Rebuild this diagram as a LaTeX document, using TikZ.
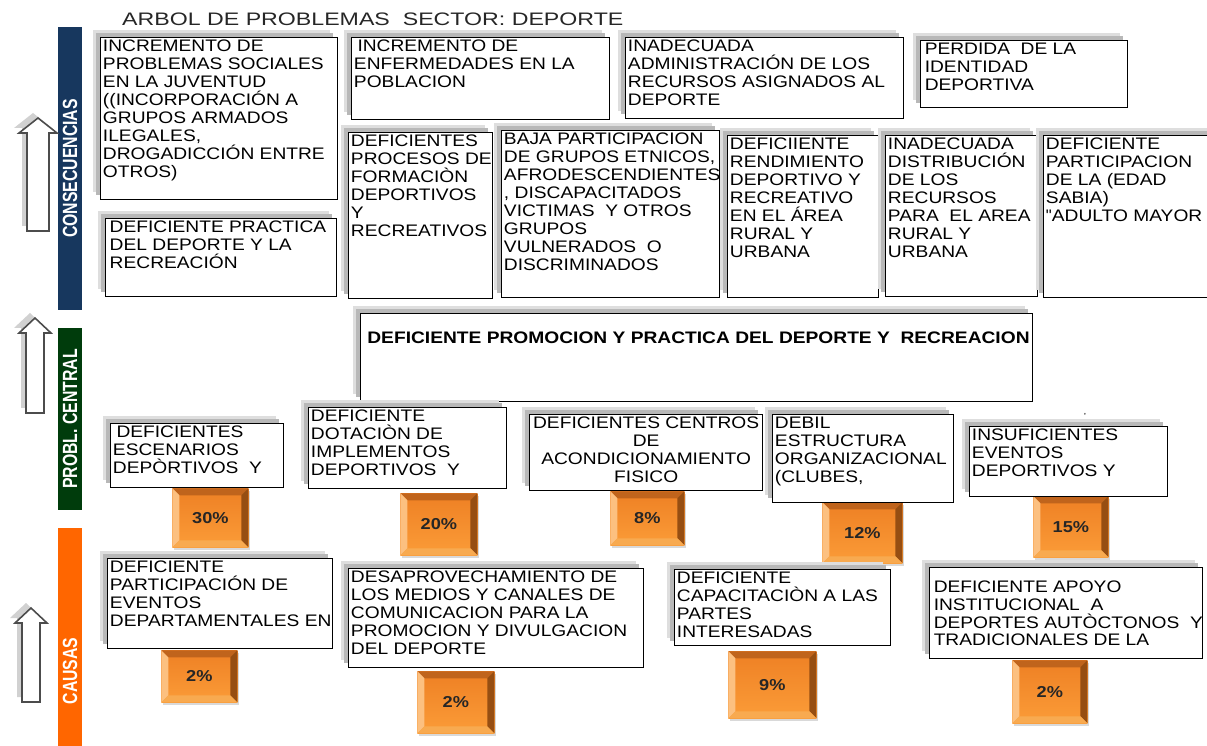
\documentclass[tikz,border=0pt]{standalone}
\usepackage{fontspec}
\usepackage{graphicx}
\usepackage{tikz}
\usepackage{xcolor}
\usetikzlibrary{positioning,shadows}

\setmainfont{Liberation Sans}[FakeStretch=1.15]
\newfontfamily\titlefont{Liberation Sans}[FakeStretch=1.28]
\newfontfamily\sidefont{Liberation Sans}

\definecolor{barblue}{RGB}{23,55,94}
\definecolor{bargreen}{RGB}{0,60,12}
\definecolor{barorange}{RGB}{255,102,0}
\definecolor{pctA}{RGB}{238,128,36}
\definecolor{pctB}{RGB}{251,156,56}
\definecolor{pctT}{RGB}{192,100,28}
\definecolor{pctL}{RGB}{252,192,128}
\definecolor{pctR}{RGB}{150,78,18}
\definecolor{pctD}{RGB}{248,170,80}

\begin{document}
\begin{tikzpicture}[x=0.02cm, y=-0.02cm,
    cbox/.style={draw, line width=0.8pt, fill=white, anchor=north west, inner sep=0pt,
        general shadow={shadow xshift=-4.5pt, shadow yshift=4.5pt, fill=black!13},
        general shadow={shadow xshift=-2.5pt, shadow yshift=2.5pt, fill=black!28}},
    txt/.style={align=left, inner sep=1.5pt, font=\fontsize{9.5}{10.2}\selectfont},
    pct/.style={anchor=north west, inner sep=0pt, top color=pctA, bottom color=pctB,
        font=\bfseries\fontsize{9}{10}\selectfont, text=black!85,
        general shadow={shadow xshift=1pt, shadow yshift=-1.5pt, fill=black!15},
        path picture={
            \path (path picture bounding box.north west) coordinate (bnw)
                  (path picture bounding box.north east) coordinate (bne)
                  (path picture bounding box.south west) coordinate (bsw)
                  (path picture bounding box.south east) coordinate (bse);
            \fill[pctT] (bnw) -- (bne) -- ([shift={(-4pt,-4pt)}]bne) -- ([shift={(4pt,-4pt)}]bnw) -- cycle;
            \fill[pctL] (bnw) -- ([shift={(4pt,-4pt)}]bnw) -- ([shift={(4pt,4pt)}]bsw) -- (bsw) -- cycle;
            \fill[pctR] (bne) -- (bse) -- ([shift={(-4pt,4pt)}]bse) -- ([shift={(-4pt,-4pt)}]bne) -- cycle;
            \fill[pctD] (bsw) -- ([shift={(4pt,4pt)}]bsw) -- ([shift={(-4pt,4pt)}]bse) -- (bse) -- cycle;
        }},
    bar/.style={rotate=90, text=white, inner sep=0pt, minimum height=0.48cm,
        font=\sidefont\bfseries\fontsize{9}{10}\selectfont},
    arrowbox/.style={draw=black!70, fill=white, line width=0.9pt, line join=miter},
    arrowshadow/.style={fill=black!18}
]
\useasboundingbox (0,0) rectangle (1207,746);

% Title
\node[anchor=west, font=\titlefont\fontsize{10.3}{12}\selectfont, text=black!85] (title) at (116,19) {ARBOL DE PROBLEMAS\ \ SECTOR: DEPORTE};

% Side bars
\node[bar, fill=barblue, minimum width=5.66cm] (conbar) at (70,168.5) {\scalebox{1}[1.3]{CONSECUENCIAS}};
\node[bar, fill=bargreen, minimum width=3.64cm] (cenbar) at (70,419) {\scalebox{1}[1.3]{PROBL. CENTRAL}};
\node[bar, fill=barorange, minimum width=5.72cm] (caubar) at (70,671) {\scalebox{1}[1.3]{CAUSAS}};

% Arrows
\fill[arrowshadow, shift={(-5,-5)}] (27,231) -- (27,133) -- (19,133) -- (38,118) -- (57,133) -- (49,133) -- (49,231) -- cycle;
\draw[arrowbox] (27,231) -- (27,133) -- (19,133) -- (38,118) -- (57,133) -- (49,133) -- (49,231) -- cycle;
\fill[arrowshadow, shift={(-5,-5)}] (26,413) -- (26,333) -- (19,333) -- (35,318) -- (51,333) -- (44,333) -- (44,413) -- cycle;
\draw[arrowbox] (26,413) -- (26,333) -- (19,333) -- (35,318) -- (51,333) -- (44,333) -- (44,413) -- cycle;
\fill[arrowshadow, shift={(-5,-5)}] (22,702) -- (22,623) -- (15,623) -- (31,608) -- (47,623) -- (40,623) -- (40,702) -- cycle;
\draw[arrowbox] (22,702) -- (22,623) -- (15,623) -- (31,608) -- (47,623) -- (40,623) -- (40,702) -- cycle;

% Consecuencias
\node[cbox, minimum width=4.74cm, minimum height=3.24cm] (c1) at (100,37) {};
\node[txt, below right=0pt and 0pt of c1.north west] (c1t) {INCREMENTO DE\\PROBLEMAS SOCIALES\\EN LA JUVENTUD\\((INCORPORACIÓN A\\GRUPOS ARMADOS\\ILEGALES,\\DROGADICCIÓN ENTRE\\OTROS)};
\node[cbox, minimum width=5.16cm, minimum height=1.64cm] (c2) at (351,37) {};
\node[txt, below right=0pt and 0pt of c2.north west] (c2t) {\hspace{2pt}INCREMENTO DE\\ENFERMEDADES EN LA\\POBLACION};
\node[cbox, minimum width=5.56cm, minimum height=1.62cm] (c3) at (625,37) {};
\node[txt, below right=0pt and 0pt of c3.north west] (c3t) {INADECUADA\\ADMINISTRACIÓN DE LOS\\RECURSOS ASIGNADOS AL\\DEPORTE};
\node[cbox, minimum width=4.14cm, minimum height=1.34cm] (c4) at (920,40) {};
\node[txt, below right=0pt and 1pt of c4.north west] (c4t) {PERDIDA\ \ DE LA\\IDENTIDAD\\DEPORTIVA};

\node[cbox, minimum width=4.62cm, minimum height=1.56cm] (c5) at (105,218) {};
\node[txt, below right=0pt and 1pt of c5.north west] (c5t) {DEFICIENTE PRACTICA\\DEL DEPORTE Y LA\\RECREACIÓN};
\node[cbox, minimum width=2.88cm, minimum height=3.32cm] (c6) at (348,132) {};
\node[txt, below right=0pt and 0pt of c6.north west] (c6t) {DEFICIENTES\\PROCESOS DE\\FORMACIÒN\\DEPORTIVOS\\Y\\RECREATIVOS};
\node[cbox, minimum width=4.36cm, minimum height=3.34cm] (c7) at (501,130) {};
\node[txt, below right=0pt and 0pt of c7.north west] (c7t) {BAJA PARTICIPACION\\DE GRUPOS ETNICOS,\\AFRODESCENDIENTES\\, DISCAPACITADOS\\VICTIMAS\ \ Y OTROS\\GRUPOS\\VULNERADOS\ \ O\\DISCRIMINADOS};
\node[cbox, minimum width=3.02cm, minimum height=3.24cm] (c8) at (727,135) {};
\node[txt, below right=0pt and 0pt of c8.north west] (c8t) {DEFICIIENTE\\RENDIMIENTO\\DEPORTIVO Y\\RECREATIVO\\EN EL ÁREA\\RURAL Y\\URBANA};
\node[cbox, minimum width=3.04cm, minimum height=3.22cm] (c9) at (885,135) {};
\node[txt, below right=0pt and 0pt of c9.north west] (c9t) {INADECUADA\\DISTRIBUCIÓN\\DE LOS\\RECURSOS\\PARA\ \ EL AREA\\RURAL Y\\URBANA};
\node[cbox, minimum width=3.5cm, minimum height=3.24cm] (c10) at (1043,135) {};
\node[txt, below right=0pt and 0pt of c10.north west] (c10t) {DEFICIENTE\\PARTICIPACION\\DE LA (EDAD\\SABIA)\\{\sidefont"}ADULTO MAYOR};

% Problema central
\node[cbox, minimum width=13.44cm, minimum height=1.76cm] (pc) at (360,313) {};
\node[txt, font=\bfseries\fontsize{9.5}{10.2}\selectfont, below right=9pt and 2.5pt of pc.north west] (pct) {DEFICIENTE PROMOCION Y PRACTICA DEL DEPORTE Y\ \ RECREACION};

% Porcentajes
\node[pct, minimum width=1.52cm, minimum height=1.18cm] (p1) at (172,488) {30\%};
\node[pct, minimum width=1.54cm, minimum height=1.24cm] (p2) at (400,493) {20\%};
\node[pct, minimum width=1.48cm, minimum height=1.08cm] (p3) at (610,491) {8\%};
\node[pct, minimum width=1.6cm, minimum height=1.22cm] (p4) at (822,502) {12\%};
\node[pct, minimum width=1.5cm, minimum height=1.22cm] (p5) at (1033,496) {15\%};
\node[pct, minimum width=1.52cm, minimum height=1.04cm] (q1) at (161,650) {2\%};
\node[pct, minimum width=1.54cm, minimum height=1.24cm] (q2) at (417,671) {2\%};
\node[pct, minimum width=1.76cm, minimum height=1.34cm] (q3) at (728,651) {9\%};
\node[pct, minimum width=1.5cm, minimum height=1.26cm] (q4) at (1012,660) {2\%};

% Causas
\node[cbox, minimum width=3.46cm, minimum height=1.28cm] (k1) at (110,423) {};
\node[txt, below right=0pt and 0pt of k1.north west] (k1t) {\hspace{2pt}DEFICIENTES\\ESCENARIOS\\DEPÒRTIVOS\ \ Y};
\node[cbox, minimum width=3.96cm, minimum height=1.62cm] (k2) at (308,407) {};
\node[txt, below right=0pt and 0pt of k2.north west] (k2t) {DEFICIENTE\\DOTACIÒN DE\\IMPLEMENTOS\\DEPORTIVOS\ \ Y};
\node[cbox, minimum width=4.66cm, minimum height=1.52cm] (k3) at (529,414) {};
\node[txt, align=center, below=0pt of k3.north] (k3t) {DEFICIENTES CENTROS\\DE\\ACONDICIONAMIENTO\\FISICO};
\node[cbox, minimum width=3.62cm, minimum height=1.76cm] (k4) at (772,414) {};
\node[txt, below right=0pt and 0pt of k4.north west] (k4t) {DEBIL\\ESTRUCTURA\\ORGANIZACIONAL\\(CLUBES,};
\node[font=\tiny] (tick) at (1085,416) {’};
\node[cbox, minimum width=3.96cm, minimum height=1.4cm] (k5) at (969,426) {};
\node[txt, below right=0pt and 0pt of k5.north west] (k5t) {INSUFICIENTES\\EVENTOS\\DEPORTIVOS Y};

\node[cbox, minimum width=4.5cm, minimum height=1.8cm] (k6) at (107,558) {};
\node[txt, below right=0pt and 0pt of k6.north west] (k6t) {DEFICIENTE\\PARTICIPACIÓN DE\\EVENTOS\\DEPARTAMENTALES EN};
\node[cbox, minimum width=5.9cm, minimum height=1.98cm] (k7) at (348,568) {};
\node[txt, below right=0pt and 0pt of k7.north west] (k7t) {DESAPROVECHAMIENTO DE\\LOS MEDIOS Y CANALES DE\\COMUNICACION PARA LA\\PROMOCION Y DIVULGACION\\DEL DEPORTE};
\node[cbox, minimum width=4.32cm, minimum height=1.52cm] (k8) at (674,569) {};
\node[txt, below right=0pt and 0pt of k8.north west] (k8t) {DEFICIENTE\\CAPACITACIÒN A LAS\\PARTES\\INTERESADAS};
\node[cbox, minimum width=5.46cm, minimum height=1.82cm] (k9) at (929,567) {};
\node[txt, below right=6pt and 1pt of k9.north west] (k9t) {DEFICIENTE APOYO\\INSTITUCIONAL\ \ A\\DEPORTES AUTÒCTONOS\ \ Y\\TRADICIONALES DE LA};
\end{tikzpicture}
\end{document}
